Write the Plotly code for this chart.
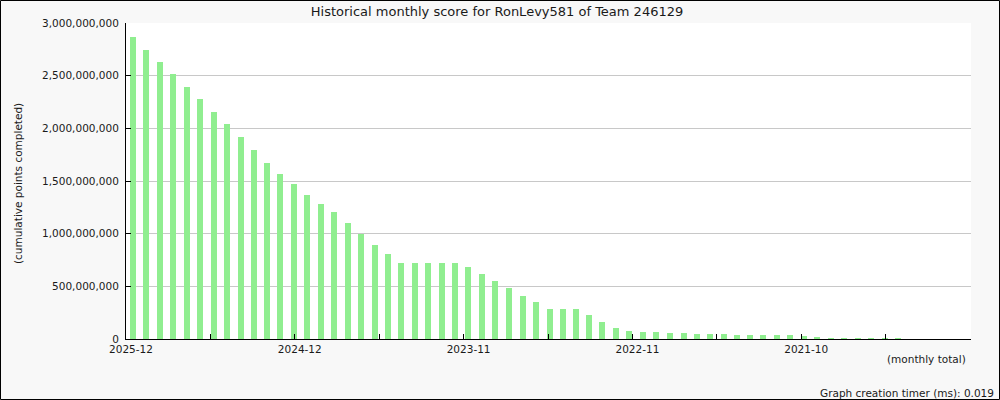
import pandas as pd
import plotly.graph_objects as go

# ---- data -------------------------------------------------------------
months = [
    "2025-12", "2025-11", "2025-10", "2025-09", "2025-08", "2025-07", "2025-06", "2025-05",
    "2025-04", "2025-03", "2025-02", "2025-01", "2024-12", "2024-11", "2024-10", "2024-09",
    "2024-08", "2024-07", "2024-06", "2024-05", "2024-04", "2024-03", "2024-02", "2024-01",
    "2023-12", "2023-11", "2023-10", "2023-09", "2023-08", "2023-07", "2023-06", "2023-05",
    "2023-04", "2023-03", "2023-02", "2023-01", "2022-12", "2022-11", "2022-10", "2022-09",
    "2022-08", "2022-07", "2022-06", "2022-05", "2022-04", "2022-03", "2022-02", "2022-01",
    "2021-12", "2021-11", "2021-10", "2021-09", "2021-08", "2021-07", "2021-06", "2021-05",
    "2021-04", "2021-03",
]
cumulative_points = [
    2870e6, 2747e6, 2633e6, 2519e6, 2396e6, 2282e6, 2158e6, 2044e6, 1921e6, 1798e6,
    1674e6, 1570e6, 1475e6, 1370e6, 1285e6, 1209e6, 1105e6, 1000e6, 896e6, 810e6,
    724e6, 724e6, 724e6, 724e6, 724e6, 684e6, 617e6, 551e6, 487e6, 411e6,
    351e6, 285e6, 285e6, 285e6, 228e6, 161e6, 104e6, 76e6, 66e6, 66e6,
    57e6, 57e6, 47e6, 47e6, 50e6, 38e6, 38e6, 38e6, 38e6, 38e6,
    30e6, 19e6, 9.5e6, 5e6, 4e6, 4e6, 3e6, 2e6,
]
x_tick_labels = ["2025-12", "", "2024-12", "", "2023-11", "", "2022-11", "", "2021-10", "", ""]
y_tick_values = [0, 500e6, 1000e6, 1500e6, 2000e6, 2500e6, 3000e6]

title_text = "Historical monthly score for RonLevy581 of Team 246129"
y_title = "(cumulative points completed)"
x_title = "(monthly total)"
footer = "Graph creation timer (ms): 0.019"

# ---- layout geometry --------------------------------------------------
W, H = 1000, 400
L_PX, R_PX, T_PX, B_PX = 126, 971, 23, 339
DAYS_PER_PX = 2.2686

left_date = pd.Timestamp("2025-12-01") + pd.Timedelta(days=7 * DAYS_PER_PX)
right_date = left_date - pd.Timedelta(days=(R_PX - L_PX) * DAYS_PER_PX)
tick_dates = [left_date - pd.Timedelta(days=k * 84.4 * DAYS_PER_PX) for k in range(11)]


def px_x(px):
    return (px - L_PX) / (R_PX - L_PX)


def px_y(py):
    return (B_PX - py) / (B_PX - T_PX)


FONT = "DejaVu Sans"
TXT = "#1a1a1a"

fig = go.Figure()
fig.add_trace(go.Bar(
    x=pd.to_datetime(months),
    y=cumulative_points,
    width=6 * DAYS_PER_PX * 86400000,
    marker=dict(color="#90EE90", line=dict(width=0)),
    hoverinfo="x+y",
))

fig.update_layout(
    width=W, height=H,
    margin=dict(l=L_PX, r=W - R_PX, t=T_PX, b=H - B_PX, pad=0),
    paper_bgcolor="#f8f8f8",
    plot_bgcolor="#ffffff",
    showlegend=False,
    bargap=0,
    font=dict(family=FONT, size=10.5, color=TXT),
    title=dict(text=title_text, x=0.497, xref="container", xanchor="center",
               y=1 - 11 / H, yref="container", yanchor="middle",
               font=dict(family=FONT, size=13, color=TXT)),
    xaxis=dict(
        type="date",
        range=[left_date, right_date],
        tickmode="array",
        tickvals=tick_dates,
        ticktext=x_tick_labels,
        ticks="inside", ticklen=5, tickcolor="#000", tickwidth=1,
        showline=True, linecolor="#000", linewidth=1,
        showgrid=False, zeroline=False,
        tickfont=dict(family=FONT, size=10.5, color=TXT),
        ticklabelshift=-5,
    ),
    yaxis=dict(
        range=[0, 3000e6],
        tickmode="array",
        tickvals=y_tick_values,
        tickformat=",d",
        ticks="inside", ticklen=5, tickcolor="#000", tickwidth=1,
        showline=True, linecolor="#000", linewidth=1,
        showgrid=True, gridcolor="#c8c8c8", gridwidth=1,
        zeroline=False,
        tickfont=dict(family=FONT, size=10.5, color=TXT),
        ticklabelstandoff=4,
    ),
)

fig.add_annotation(text=y_title, xref="paper", yref="paper",
                   x=px_x(18), y=px_y(184), xanchor="center", yanchor="middle",
                   textangle=-90, showarrow=False,
                   font=dict(family=FONT, size=10.5, color=TXT))
fig.add_annotation(text=x_title, xref="paper", yref="paper",
                   x=px_x(968), y=px_y(359), xanchor="right", yanchor="middle",
                   showarrow=False, font=dict(family=FONT, size=10.5, color=TXT))
fig.add_annotation(text=footer, xref="paper", yref="paper",
                   x=px_x(996), y=px_y(392.5), xanchor="right", yanchor="middle",
                   showarrow=False, font=dict(family=FONT, size=10.5, color=TXT))

# outer black border
fig.add_shape(type="rect", xref="paper", yref="paper",
              x0=px_x(0.5), x1=px_x(999.5), y0=px_y(399.5), y1=px_y(0.5),
              line=dict(color="#000", width=1), fillcolor="rgba(0,0,0,0)", layer="above")

fig.write_html(
    "out.html",
    config={"displayModeBar": False},
    post_script="document.body.style.margin='0';document.body.style.overflow='hidden';",
)
